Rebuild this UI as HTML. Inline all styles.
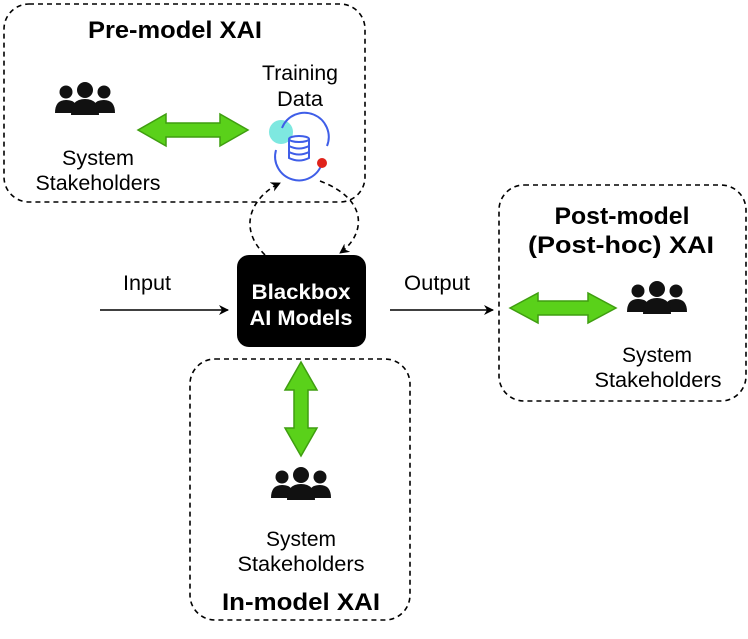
<!DOCTYPE html>
<html><head><style>
body{margin:0;background:#fff;}
svg text{font-family:"Liberation Sans",Arial,sans-serif;}
</style></head><body>
<svg width="748" height="634" viewBox="0 0 748 634" xmlns="http://www.w3.org/2000/svg">
<defs>
<marker id="ah" markerWidth="10" markerHeight="10" refX="9" refY="5" orient="auto" markerUnits="userSpaceOnUse">
<path d="M0,0 L10,5 L0,10 L3,5 z" fill="#000"/></marker>
<g id="ppl" fill="#111">
<circle cx="-19" cy="-9" r="6.5"/><circle cx="19" cy="-9" r="6.5"/>
<path d="M-30,12 q0,-13 11,-13 q8,0 10,5 l-3,8 z"/>
<path d="M30,12 q0,-13 -11,-13 q-8,0 -10,5 l3,8 z"/>
<circle cx="0" cy="-11" r="8"/>
<path d="M-14,14 q0,-16 14,-16 q14,0 14,16 z"/>
</g>
</defs>
<g fill="none" stroke="#000" stroke-width="1.6" stroke-dasharray="5,4">
<rect x="4" y="4" width="361" height="198" rx="25"/>
<rect x="190" y="359" width="220" height="261" rx="25"/>
<rect x="499" y="185" width="247" height="216" rx="25"/>
<path d="M265,255 C235,225 255,195 280,183" marker-end="url(#ah)"/>
<path d="M320,181 C370,200 365,235 340,253" marker-end="url(#ah)"/>
</g>
<text x="175" y="38" font-size="24" font-weight="bold" text-anchor="middle" textLength="174" lengthAdjust="spacingAndGlyphs">Pre-model XAI</text>
<use href="#ppl" x="85" y="101"/>
<text x="98" y="165" font-size="21" text-anchor="middle" textLength="72" lengthAdjust="spacingAndGlyphs">System</text>
<text x="98" y="190" font-size="21" text-anchor="middle" textLength="125" lengthAdjust="spacingAndGlyphs">Stakeholders</text>
<text x="300" y="80" font-size="21" text-anchor="middle" textLength="76" lengthAdjust="spacingAndGlyphs">Training</text>
<text x="300" y="106" font-size="21" text-anchor="middle" textLength="46" lengthAdjust="spacingAndGlyphs">Data</text>
<circle cx="281" cy="132" r="12" fill="#7ee8e0"/>
<g fill="none" stroke="#3f5ee8" stroke-width="2">
<path d="M282,128 A24,24 0 0 1 327,146"/>
<path d="M322,163 A22,22 0 0 1 276,150"/>
<ellipse cx="299" cy="139" rx="10" ry="3"/>
<path d="M289,139 v19 q10,5 20,0 v-19 M289,146 q10,5 20,0 M289,152 q10,5 20,0"/>
</g>
<circle cx="322" cy="163" r="5" fill="#e0231b"/>
<g fill="#5ad11a" stroke="#3f9e10" stroke-width="1.5">
<path d="M138,130 L166,114 L166,123 L220,123 L220,114 L248,130 L220,146 L220,137 L166,137 L166,146 Z"/>
<path d="M510,308 L538,293 L538,301 L588,301 L588,293 L616,308 L588,323 L588,315 L538,315 L538,323 Z"/>
<path d="M301,362 L317,390 L308,390 L308,428 L317,428 L301,456 L285,428 L294,428 L294,390 L285,390 Z"/>
</g>
<rect x="237" y="255" width="129" height="92" rx="12" fill="#000"/>
<text x="301" y="299" font-size="21" font-weight="bold" fill="#fff" text-anchor="middle" textLength="99" lengthAdjust="spacingAndGlyphs">Blackbox</text>
<text x="301" y="325" font-size="21" font-weight="bold" fill="#fff" text-anchor="middle" textLength="103" lengthAdjust="spacingAndGlyphs">AI Models</text>
<text x="147" y="290" font-size="21" text-anchor="middle" textLength="48" lengthAdjust="spacingAndGlyphs">Input</text>
<line x1="100" y1="310" x2="228" y2="310" stroke="#000" stroke-width="1.5" marker-end="url(#ah)"/>
<text x="437" y="290" font-size="21" text-anchor="middle" textLength="66" lengthAdjust="spacingAndGlyphs">Output</text>
<line x1="390" y1="310" x2="493" y2="310" stroke="#000" stroke-width="1.5" marker-end="url(#ah)"/>
<text x="622" y="224" font-size="24" font-weight="bold" text-anchor="middle" textLength="135" lengthAdjust="spacingAndGlyphs">Post-model</text>
<text x="621" y="253" font-size="24" font-weight="bold" text-anchor="middle" textLength="186" lengthAdjust="spacingAndGlyphs">(Post-hoc) XAI</text>
<use href="#ppl" x="657" y="300"/>
<text x="657" y="362" font-size="21" text-anchor="middle" textLength="70" lengthAdjust="spacingAndGlyphs">System</text>
<text x="658" y="387" font-size="21" text-anchor="middle" textLength="127" lengthAdjust="spacingAndGlyphs">Stakeholders</text>
<use href="#ppl" x="301" y="486"/>
<text x="301" y="546" font-size="21" text-anchor="middle" textLength="70" lengthAdjust="spacingAndGlyphs">System</text>
<text x="301" y="571" font-size="21" text-anchor="middle" textLength="127" lengthAdjust="spacingAndGlyphs">Stakeholders</text>
<text x="301" y="610" font-size="24" font-weight="bold" text-anchor="middle" textLength="158" lengthAdjust="spacingAndGlyphs">In-model XAI</text>
</svg>
</body></html>
